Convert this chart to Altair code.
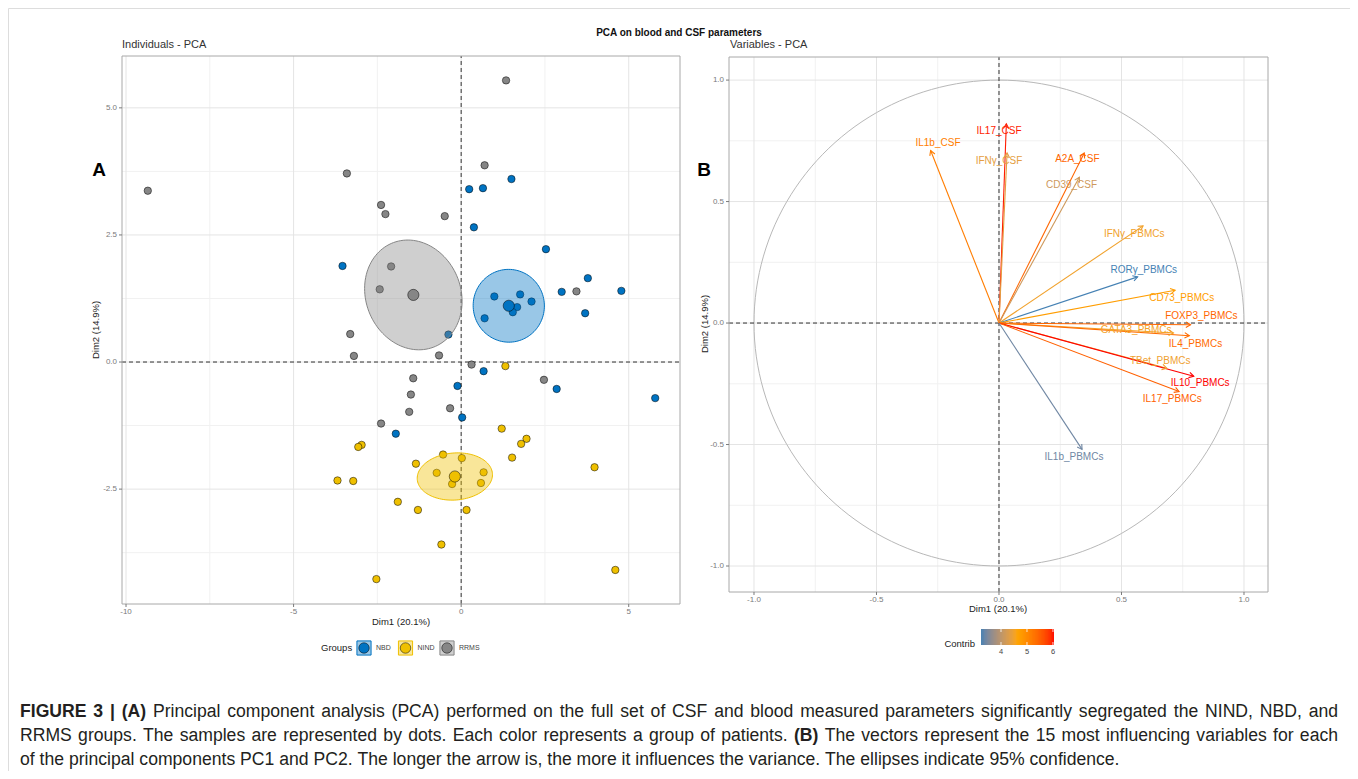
import numpy as np
import pandas as pd
import altair as alt

FONT = "Liberation Sans"

# ---------------- data ----------------
groups = ["NBD", "NIND", "RRMS"]
group_colors = ["#0073C2", "#EFC000", "#868686"]

nbd_x = [1.50, 0.24, 0.65, 0.38, 2.53, -3.54, 3.78, 3.00, 4.78, 3.70, 0.99, 1.76,
         2.10, 1.67, 1.54, 0.70, -0.38, 0.67, -0.11, 2.85, 5.79, 0.03, -1.95]
nbd_y = [3.60, 3.40, 3.42, 2.65, 2.22, 1.89, 1.65, 1.38, 1.40, 0.96, 1.29, 1.33,
         1.19, 1.08, 0.98, 0.86, 0.54, -0.18, -0.47, -0.53, -0.71, -1.09, -1.41]

nind_x = [1.32, 1.21, 1.95, -2.97, -3.07, 1.79, -0.54, 0.02, 1.52, -1.35, 3.98, -0.73,
          0.67, -0.27, 0.59, -3.69, -3.22, -1.89, -1.29, 0.16, -0.59, 4.60, -2.53]
nind_y = [-0.08, -1.31, -1.51, -1.63, -1.67, -1.61, -1.82, -1.89, -1.88, -2.00, -2.07, -2.18,
          -2.17, -2.40, -2.38, -2.33, -2.34, -2.75, -2.91, -2.91, -3.59, -4.09, -4.27]

rrms_x = [1.34, -9.35, -3.41, 0.70, -2.39, -2.26, -0.49, -2.09, -2.43, 3.44, -3.31, -3.20,
          -0.66, 0.31, -1.43, 2.47, -1.50, -0.33, -1.55, -2.39]
rrms_y = [5.54, 3.37, 3.71, 3.87, 3.09, 2.91, 2.87, 1.88, 1.43, 1.39, 0.55, 0.12,
          0.13, -0.05, -0.32, -0.35, -0.64, -0.91, -0.98, -1.21]

var_names = ["IL17_CSF", "IL1b_CSF", "IFNγ_CSF", "A2A_CSF", "CD39_CSF", "IFNγ_PBMCs",
             "RORγ_PBMCs", "CD73_PBMCs", "FOXP3_PBMCs", "GATA3_PBMCs", "IL4_PBMCs",
             "TBet_PBMCs", "IL10_PBMCs", "IL17_PBMCs", "IL1b_PBMCs"]
var_dim1 = [0.030, -0.279, 0.033, 0.348, 0.328, 0.588, 0.566, 0.719, 0.782, 0.712, 0.777,
            0.685, 0.795, 0.735, 0.339]
var_dim2 = [0.820, 0.710, 0.700, 0.700, 0.600, 0.400, 0.190, 0.135, -0.007, -0.041, -0.052,
            -0.186, -0.219, -0.282, -0.520]
var_contrib = [5.98, 5.17, 4.36, 5.43, 4.15, 4.49, 3.23, 4.75, 5.43, 4.52, 5.38,
               4.47, 6.04, 5.50, 3.42]
label_x = [0.000, -0.249, 0.000, 0.320, 0.296, 0.552, 0.591, 0.746, 0.826, 0.560, 0.802,
           0.658, 0.821, 0.707, 0.306]
label_y = [0.790, 0.740, 0.666, 0.674, 0.569, 0.368, 0.220, 0.104, 0.027, -0.029, -0.086,
           -0.156, -0.248, -0.312, -0.551]

ind_x_major = [-10, -5, 0, 5]
ind_x_minor = [-7.5, -2.5, 2.5]
ind_y_major = [-2.5, 0.0, 2.5, 5.0]
ind_y_minor = [-3.75, -1.25, 1.25, 3.75]
ind_x_labels = ["-10", "-5", "0", "5"]
ind_y_labels = ["-2.5", "0.0", "2.5", "5.0"]

var_major = [-1.0, -0.5, 0.0, 0.5, 1.0]
var_minor = [-0.75, -0.25, 0.25, 0.75]
var_labels = ["-1.0", "-0.5", "0.0", "0.5", "1.0"]

contrib_min, contrib_max = 3.23, 6.04
contrib_domain = [contrib_min, (contrib_min + contrib_max) / 2, contrib_max]
contrib_colors = ["#4682B4", "#FFA500", "#FF0000"]
contrib_ticks = [4, 5, 6]

caption_lines = [
    [("FIGURE 3 | (A)", True),
     ("Principal component analysis (PCA) performed on the full set of CSF and blood measured "
      "parameters significantly segregated the NIND, NBD, and", False)],
    [("RRMS groups. The samples are represented by dots. Each color represents a group of "
      "patients.", False),
     ("(B)", True),
     ("The vectors represent the 15 most influencing variables for each", False)],
    [("of the principal components PC1 and PC2. The longer the arrow is, the more it influences "
      "the variance. The ellipses indicate 95% confidence.", False)],
]

# ---------------- layout ----------------
W, H = 1342, 763
L_XDOM, L_YDOM = [-10.12, 6.53], [-4.76, 6.02]
L_XRNG, L_YRNG = [114, 672], [596, 48]
R_XDOM, R_YDOM = [-1.102, 1.098], [-1.107, 1.095]
R_XRNG, R_YRNG = [721, 1260], [584, 49]
BAR_XRNG, BAR_Y0, BAR_Y1 = [973, 1046], 621, 637

xsL = alt.Scale(domain=L_XDOM, range=L_XRNG, nice=False, zero=False)
ysL = alt.Scale(domain=L_YDOM, range=L_YRNG, nice=False, zero=False)
xsR = alt.Scale(domain=R_XDOM, range=R_XRNG, nice=False, zero=False)
ysR = alt.Scale(domain=R_YDOM, range=R_YRNG, nice=False, zero=False)
xsBar = alt.Scale(domain=[contrib_min, contrib_max], range=BAR_XRNG, nice=False, zero=False)
fill_scale = alt.Scale(domain=groups, range=group_colors)
color_scale = alt.Scale(domain=contrib_domain, range=contrib_colors, interpolate="lab")

GRID_MAJOR = "#E4E4E4"
GRID_MINOR = "#F1F1F1"
BORDER = "#A8A8A8"
TICK_COL = "#7A7A7A"


def grid(xdom, ydom, xs, ys, xvals, yvals, color, width, dash=None):
    kw = dict(color=color, strokeWidth=width)
    if dash:
        kw["strokeDash"] = dash
    out = []
    if xvals:
        dfx = pd.DataFrame({"v": xvals, "lo": ydom[0], "hi": ydom[1]})
        out.append(alt.Chart(dfx).mark_rule(**kw).encode(
            x=alt.X("v:Q", scale=xs, axis=None),
            y=alt.Y("lo:Q", scale=ys, axis=None), y2="hi:Q"))
    if yvals:
        dfy = pd.DataFrame({"v": yvals, "lo": xdom[0], "hi": xdom[1]})
        out.append(alt.Chart(dfy).mark_rule(**kw).encode(
            y=alt.Y("v:Q", scale=ys, axis=None),
            x=alt.X("lo:Q", scale=xs, axis=None), x2="hi:Q"))
    return out


def border(xdom, ydom, xs, ys):
    df = pd.DataFrame({"x0": [xdom[0]], "x1": [xdom[1]], "y0": [ydom[0]], "y1": [ydom[1]]})
    return alt.Chart(df).mark_rect(fillOpacity=0, stroke=BORDER, strokeWidth=1).encode(
        x=alt.X("x0:Q", scale=xs, axis=None), x2="x1:Q",
        y=alt.Y("y0:Q", scale=ys, axis=None), y2="y1:Q")


def ticks(xs, ys, xvals, xlabs, yvals, ylabs, x_base, y_left):
    out = []
    dfx = pd.DataFrame({"v": xvals, "lab": xlabs})
    dfy = pd.DataFrame({"v": yvals, "lab": ylabs})
    out.append(alt.Chart(dfx).mark_rule(color=TICK_COL, strokeWidth=1).encode(
        x=alt.X("v:Q", scale=xs, axis=None), y=alt.value(x_base), y2=alt.value(x_base + 3)))
    out.append(alt.Chart(dfx).mark_text(font=FONT, fontSize=8, color=TICK_COL, baseline="middle").encode(
        x=alt.X("v:Q", scale=xs, axis=None), y=alt.value(x_base + 7.5), text="lab:N"))
    out.append(alt.Chart(dfy).mark_rule(color=TICK_COL, strokeWidth=1).encode(
        y=alt.Y("v:Q", scale=ys, axis=None), x=alt.value(y_left - 3), x2=alt.value(y_left)))
    out.append(alt.Chart(dfy).mark_text(font=FONT, fontSize=8, color=TICK_COL, align="right",
                                        baseline="middle").encode(
        y=alt.Y("v:Q", scale=ys, axis=None), x=alt.value(y_left - 5), text="lab:N"))
    return out


# ---------------- left panel: individuals ----------------
ind_df = pd.concat([
    pd.DataFrame({"x": nbd_x, "y": nbd_y, "group": "NBD"}),
    pd.DataFrame({"x": nind_x, "y": nind_y, "group": "NIND"}),
    pd.DataFrame({"x": rrms_x, "y": rrms_y, "group": "RRMS"}),
], ignore_index=True)

ell_rows, cen_rows = [], []
t = np.linspace(0, 2 * np.pi, 121)
for g, gx, gy in [("NBD", nbd_x, nbd_y), ("NIND", nind_x, nind_y), ("RRMS", rrms_x, rrms_y)]:
    X = np.column_stack([gx, gy])
    m = X.mean(axis=0)
    S = np.cov(X.T)
    r = np.sqrt(5.991 / len(gx))  # 95% confidence ellipse of the group mean
    Lc = np.linalg.cholesky(S)
    pts = m[:, None] + r * Lc @ np.vstack([np.cos(t), np.sin(t)])
    for i in range(len(t)):
        ell_rows.append({"group": g, "idx": i, "x": pts[0, i], "y": pts[1, i]})
    cen_rows.append({"group": g, "x": m[0], "y": m[1]})
ell_df = pd.DataFrame(ell_rows)
cen_df = pd.DataFrame(cen_rows)

enc_xy_L = dict(x=alt.X("x:Q", scale=xsL, axis=None), y=alt.Y("y:Q", scale=ysL, axis=None))

pts_L = alt.Chart(ind_df).mark_point(filled=True, shape="circle", size=55, stroke="black",
                                     strokeWidth=0.5, opacity=1).encode(
    fill=alt.Fill("group:N", scale=fill_scale, legend=None), **enc_xy_L)
ell_L = alt.Chart(ell_df).mark_line(fillOpacity=0.4, strokeWidth=1).encode(
    fill=alt.Fill("group:N", scale=fill_scale, legend=None),
    stroke=alt.Stroke("group:N", scale=fill_scale, legend=None),
    detail="group:N", order="idx:Q", **enc_xy_L)
cen_L = alt.Chart(cen_df).mark_point(filled=True, shape="circle", size=125, stroke="black",
                                     strokeWidth=0.5, opacity=1).encode(
    fill=alt.Fill("group:N", scale=fill_scale, legend=None), **enc_xy_L)

left = alt.layer(
    *grid(L_XDOM, L_YDOM, xsL, ysL, ind_x_minor, ind_y_minor, GRID_MINOR, 1),
    *grid(L_XDOM, L_YDOM, xsL, ysL, ind_x_major, ind_y_major, GRID_MAJOR, 1),
    *grid(L_XDOM, L_YDOM, xsL, ysL, [0], [0], "#333333", 1, dash=[4, 3]),
    pts_L, ell_L, cen_L,
    border(L_XDOM, L_YDOM, xsL, ysL),
    *ticks(xsL, ysL, ind_x_major, ind_x_labels, ind_y_major, ind_y_labels,
           L_YRNG[0], L_XRNG[0]),
)

# ---------------- groups legend ----------------
leg_df = pd.DataFrame({"group": groups})
leg_x = alt.X("group:N", scale=alt.Scale(type="point", domain=groups, range=[356, 439], padding=0),
              axis=None)
leg_sq = alt.Chart(leg_df).mark_square(size=200, fillOpacity=0.4, strokeWidth=1, opacity=1).encode(
    x=leg_x, y=alt.value(640),
    fill=alt.Fill("group:N", scale=fill_scale, legend=None),
    stroke=alt.Stroke("group:N", scale=fill_scale, legend=None))
leg_pt = alt.Chart(leg_df).mark_point(filled=True, shape="circle", size=110, stroke="black",
                                      strokeWidth=0.5, opacity=1).encode(
    x=leg_x, y=alt.value(640), fill=alt.Fill("group:N", scale=fill_scale, legend=None))
leg_tx = alt.Chart(leg_df).mark_text(font=FONT, fontSize=7, color="#444", align="left",
                                     baseline="middle", dx=12).encode(
    x=leg_x, y=alt.value(640), text="group:N")
legend_groups = alt.layer(leg_sq, leg_pt, leg_tx)

# ---------------- right panel: variables ----------------
var_df = pd.DataFrame({"name": var_names, "d1": var_dim1, "d2": var_dim2, "contrib": var_contrib,
                       "lx": label_x, "ly": label_y, "o": 0.0})
col = alt.Color("contrib:Q", scale=color_scale, legend=None)

circle_R = alt.Chart(alt.sequence(0, 362, 2, as_="t")).transform_calculate(
    cx="cos(datum.t * PI / 180)", cy="sin(datum.t * PI / 180)").mark_line(
    color="#B8B8B8", strokeWidth=1).encode(
    x=alt.X("cx:Q", scale=xsR, axis=None), y=alt.Y("cy:Q", scale=ysR, axis=None), order="t:Q")

shaft_R = alt.Chart(var_df).mark_rule(strokeWidth=1.1).encode(
    x=alt.X("o:Q", scale=xsR, axis=None), y=alt.Y("o:Q", scale=ysR, axis=None),
    x2="d1:Q", y2="d2:Q", color=col)
head_R = alt.Chart(var_df).transform_calculate(
    ang="(atan2(datum.d1, datum.d2) * 180 / PI + 360) % 360").mark_point(
    shape="M-0.577,1L0,0L0.577,1", filled=False, size=90, strokeWidth=1.1, opacity=1).encode(
    x=alt.X("d1:Q", scale=xsR, axis=None), y=alt.Y("d2:Q", scale=ysR, axis=None),
    angle=alt.Angle("ang:Q", scale=None), color=col)
text_R = alt.Chart(var_df).mark_text(font=FONT, fontSize=10, baseline="middle").encode(
    x=alt.X("lx:Q", scale=xsR, axis=None), y=alt.Y("ly:Q", scale=ysR, axis=None),
    text="name:N", color=col)

right = alt.layer(
    *grid(R_XDOM, R_YDOM, xsR, ysR, var_minor, var_minor, GRID_MINOR, 1),
    *grid(R_XDOM, R_YDOM, xsR, ysR, var_major, var_major, GRID_MAJOR, 1),
    circle_R,
    *grid(R_XDOM, R_YDOM, xsR, ysR, [0], [0], "#333333", 1, dash=[4, 3]),
    shaft_R, head_R, text_R,
    border(R_XDOM, R_YDOM, xsR, ysR),
    *ticks(xsR, ysR, var_major, var_labels, var_major, var_labels, R_YRNG[0], R_XRNG[0]),
)

# ---------------- contrib colour bar ----------------
bar_step = (contrib_max - contrib_min) / 50
bar = alt.Chart(alt.sequence(contrib_min, contrib_max, bar_step, as_="v")).transform_calculate(
    v2=f"min(datum.v + {bar_step * 3}, {contrib_max})",
    vc=f"datum.v + {bar_step / 2}").mark_rect(strokeWidth=0).encode(
    x=alt.X("v:Q", scale=xsBar, axis=None), x2="v2:Q",
    y=alt.value(BAR_Y0), y2=alt.value(BAR_Y1),
    color=alt.Color("vc:Q", scale=color_scale, legend=None))
tick_df = pd.DataFrame({"v": contrib_ticks, "lab": [str(v) for v in contrib_ticks]})
bar_t1 = alt.Chart(tick_df).mark_rule(color="white", strokeWidth=0.8).encode(
    x=alt.X("v:Q", scale=xsBar, axis=None), y=alt.value(BAR_Y0), y2=alt.value(BAR_Y0 + 3))
bar_t2 = alt.Chart(tick_df).mark_rule(color="white", strokeWidth=0.8).encode(
    x=alt.X("v:Q", scale=xsBar, axis=None), y=alt.value(BAR_Y1 - 3), y2=alt.value(BAR_Y1))
bar_lab = alt.Chart(tick_df).mark_text(font=FONT, fontSize=7.5, color="#444",
                                       baseline="middle").encode(
    x=alt.X("v:Q", scale=xsBar, axis=None), y=alt.value(BAR_Y1 + 7), text="lab:N")
colorbar = alt.layer(bar, bar_t1, bar_t2, bar_lab)

# ---------------- caption (justified word layout, Arial/Liberation metrics) ----------------
_REG = {" ": 278, "(": 333, ")": 333, ",": 278, "-": 333, ".": 278, "%": 889, "|": 260,
        "0": 556, "1": 556, "2": 556, "3": 556, "4": 556, "5": 556, "6": 556, "7": 556,
        "8": 556, "9": 556,
        "A": 667, "B": 667, "C": 722, "D": 722, "E": 667, "F": 611, "G": 778, "H": 722,
        "I": 278, "J": 500, "K": 667, "L": 556, "M": 833, "N": 722, "O": 778, "P": 667,
        "Q": 778, "R": 722, "S": 667, "T": 611, "U": 722, "V": 667, "W": 944, "X": 667,
        "Y": 667, "Z": 611,
        "a": 556, "b": 556, "c": 500, "d": 556, "e": 556, "f": 278, "g": 556, "h": 556,
        "i": 222, "j": 222, "k": 500, "l": 222, "m": 833, "n": 556, "o": 556, "p": 556,
        "q": 556, "r": 333, "s": 500, "t": 278, "u": 556, "v": 500, "w": 722, "x": 500,
        "y": 500, "z": 500}
_BOLD = {" ": 278, "(": 333, ")": 333, "|": 280, "3": 556, "A": 722, "B": 722, "E": 667,
         "F": 611, "G": 778, "I": 278, "R": 722, "U": 722}

CAP_SIZE = 17.6
CAP_LEFT, CAP_RIGHT = 12, 1330
CAP_Y = [704, 728, 752]


def wwidth(word, bold):
    tbl = _BOLD if bold else _REG
    return sum(tbl.get(c, 556) for c in word) * CAP_SIZE / 1000.0


cap_rows = []
for li, line in enumerate(caption_lines):
    words = []
    for seg, bold in line:
        for w in seg.split(" "):
            words.append((w, bold))
    widths = [wwidth(w, b) for w, b in words]
    natural_gap = 278 * CAP_SIZE / 1000.0
    if li < len(caption_lines) - 1:
        gap = (CAP_RIGHT - CAP_LEFT - sum(widths)) / (len(words) - 1)
    else:
        gap = natural_gap
    xpos = CAP_LEFT
    for (w, b), wd in zip(words, widths):
        cap_rows.append({"w": w, "bold": b, "px": xpos, "py": CAP_Y[li]})
        xpos += wd + gap
cap_df = pd.DataFrame(cap_rows)

cap_enc = dict(x=alt.X("px:Q", scale=None, axis=None), y=alt.Y("py:Q", scale=None, axis=None),
               text="w:N")
cap_reg = alt.Chart(cap_df[~cap_df["bold"]]).mark_text(
    font=FONT, fontSize=CAP_SIZE, color="#231F20", align="left", baseline="middle").encode(**cap_enc)
cap_bold = alt.Chart(cap_df[cap_df["bold"]]).mark_text(
    font=FONT, fontSize=CAP_SIZE, fontWeight="bold", color="#231F20", align="left",
    baseline="middle").encode(**cap_enc)


# ---------------- annotations ----------------
def note(text, x, y, size, **kw):
    return alt.Chart(pd.DataFrame({"t": [text]})).mark_text(font=FONT, fontSize=size, **kw).encode(
        text="t:N", x=alt.value(x), y=alt.value(y))


annot = alt.layer(
    note("PCA on blood and CSF parameters", 671, 25, 10, fontWeight="bold", color="#111",
         baseline="middle"),
    note("Individuals - PCA", 114, 37, 11, color="#333", align="left", baseline="middle"),
    note("Variables - PCA", 722, 37, 11, color="#333", align="left", baseline="middle"),
    note("A", 91, 162, 19, fontWeight="bold", color="#000", baseline="middle"),
    note("B", 696, 162, 19, fontWeight="bold", color="#000", baseline="middle"),
    note("Dim1 (20.1%)", 393, 614, 9.5, color="#222", baseline="middle"),
    note("Dim1 (20.1%)", 990, 601, 9.5, color="#222", baseline="middle"),
    note("Dim2 (14.9%)", 88, 322, 9.5, color="#222", baseline="middle", angle=270),
    note("Dim2 (14.9%)", 697, 316, 9.5, color="#222", baseline="middle", angle=270),
    note("Groups", 313, 640, 9.5, color="#222", align="left", baseline="middle"),
    note("Contrib", 967, 636, 9.5, color="#222", align="right", baseline="middle"),
    cap_reg, cap_bold,
)

chart = alt.layer(left, legend_groups, right, colorbar, annot).resolve_scale(
    x="independent", y="independent"
).properties(
    width=W, height=H, padding=0, autosize=alt.AutoSizeParams(type="none")
).configure_view(stroke="#555555", strokeWidth=1).configure(background="white")

chart.save("out.html", embed_options={"renderer": "svg", "actions": False})
